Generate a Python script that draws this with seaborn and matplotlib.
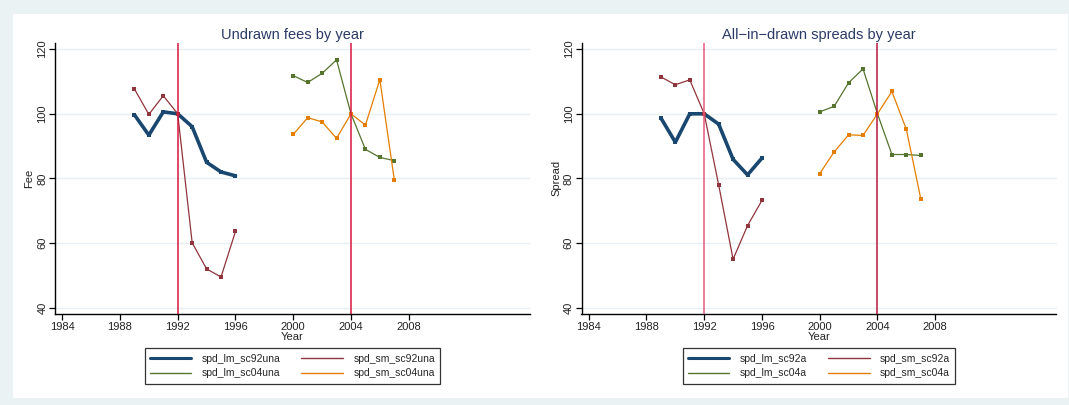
import numpy as np
import pandas as pd
import matplotlib
matplotlib.use("Agg")
import matplotlib.pyplot as plt
from matplotlib.lines import Line2D
from matplotlib.patches import Rectangle
import seaborn as sns

# ---------------- data ----------------
years_92 = [1989, 1990, 1991, 1992, 1993, 1994, 1995, 1996]
years_04 = [2000, 2001, 2002, 2003, 2004, 2005, 2006, 2007]

# Undrawn fees
spd_lm_sc92una = [99.7, 93.4, 100.6, 100.0, 96.0, 85.0, 82.0, 80.8]
spd_sm_sc92una = [107.7, 99.8, 105.6, 100.0, 60.1, 52.0, 49.5, 63.6]
spd_lm_sc04una = [111.8, 109.7, 112.5, 116.7, 100.0, 89.0, 86.5, 85.5]
spd_sm_sc04una = [93.6, 98.8, 97.5, 92.4, 100.0, 96.5, 110.6, 79.6]

# All-in-drawn spreads
spd_lm_sc92a = [98.7, 91.2, 100.0, 100.0, 96.8, 85.9, 81.1, 86.3]
spd_sm_sc92a = [111.4, 109.0, 110.5, 100.0, 78.0, 55.0, 65.4, 73.2]
spd_lm_sc04a = [100.6, 102.3, 109.6, 113.9, 100.0, 87.4, 87.4, 87.1]
spd_sm_sc04a = [81.5, 88.2, 93.5, 93.3, 100.0, 106.9, 95.2, 73.7]

x_ticks = [1984, 1988, 1992, 1996, 2000, 2004, 2008]
y_ticks = [40, 60, 80, 100, 120]
vlines = [1992, 2004]

titles = ["Undrawn fees by year", "All\u2212in\u2212drawn spreads by year"]
ylabels = ["Fee", "Spread"]

# ---------------- style ----------------
sns.set_theme(style="white")
plt.rcParams["font.family"] = ["Liberation Sans", "DejaVu Sans"]

NAVY = "#1a476f"
MAROON = "#90353b"
GREEN = "#55752f"
ORANGE = "#e37e00"

W, H = 1069, 405
fig = plt.figure(figsize=(W / 100, H / 100), dpi=100)
fig.patch.set_facecolor("#eaf2f3")
fig.add_artist(Rectangle((13 / W, 1 - 398 / H), (1068 - 13) / W, (398 - 14) / H,
                         transform=fig.transFigure, facecolor="white",
                         edgecolor="none", zorder=0))

def px_axes(left, top, right, bottom):
    return fig.add_axes([left / W, 1 - bottom / H, (right - left) / W, (bottom - top) / H])

ax1 = px_axes(55, 42.7, 530, 314)
ax2 = px_axes(581.5, 42.7, 1056.5, 314)

panels = [
    (ax1, [("spd_lm_sc92una", years_92, spd_lm_sc92una, NAVY, 2.6, 3.2),
           ("spd_lm_sc04una", years_04, spd_lm_sc04una, GREEN, 0.9, 2.2),
           ("spd_sm_sc92una", years_92, spd_sm_sc92una, MAROON, 0.9, 2.2),
           ("spd_sm_sc04una", years_04, spd_sm_sc04una, ORANGE, 0.9, 2.2)],
     ["#d8163f", "#d8163f"]),
    (ax2, [("spd_lm_sc92a", years_92, spd_lm_sc92a, NAVY, 2.6, 3.2),
           ("spd_lm_sc04a", years_04, spd_lm_sc04a, GREEN, 0.9, 2.2),
           ("spd_sm_sc92a", years_92, spd_sm_sc92a, MAROON, 0.9, 2.2),
           ("spd_sm_sc04a", years_04, spd_sm_sc04a, ORANGE, 0.9, 2.2)],
     ["#e8587c", "#b8163c"]),
]

draw_order = [0, 2, 1, 3]

for i, (ax, series, vcols) in enumerate(panels):
    ax.set_facecolor("white")
    for yt in y_ticks:
        ax.axhline(yt, color="#e6eff1", lw=1.0, zorder=0)
    for k in draw_order:
        name, xs, ys, col, lw, ms = series[k]
        df = pd.DataFrame({"Year": xs, "value": ys})
        sns.lineplot(data=df, x="Year", y="value", ax=ax, color=col, lw=lw,
                     marker="s", markersize=ms, markeredgewidth=0,
                     markerfacecolor=col, zorder=3 if k else 2, sort=False)
    for v, c in zip(vlines, vcols):
        ax.axvline(v, color=c, lw=1.1, zorder=4)

    ax.set_xlim(1983.5, 2016.4)
    ax.set_ylim(38.05, 122.0)
    ax.set_xticks(x_ticks)
    ax.set_yticks(y_ticks)
    ax.tick_params(axis="both", which="major", direction="out", length=4,
                   width=0.9, color="black", labelsize=8, labelcolor="#222222",
                   pad=1.5, left=True, bottom=True)
    for lab in ax.get_yticklabels():
        lab.set_rotation(90)
        lab.set_va("center")
    ax.set_xlabel("Year", fontsize=8, color="#222222", labelpad=0.5)
    ax.set_ylabel(ylabels[i], fontsize=8, color="#222222", labelpad=2)
    ax.set_title(titles[i], fontsize=10.5, color="#2b3a67", pad=3)
    for s in ["top", "right"]:
        ax.spines[s].set_visible(False)
    for s in ["left", "bottom"]:
        ax.spines[s].set_color("black")
        ax.spines[s].set_linewidth(1.0)

    handles = [Line2D([], [], color=col, lw=(2.2 if lw > 2 else 1.0))
               for (_, _, _, col, lw, _) in series]
    labels = [s[0] for s in series]
    cx = (ax.get_position().x0 + ax.get_position().x1) / 2
    leg = fig.legend(handles, labels, loc="center", bbox_to_anchor=(cx, 1 - 366 / H),
                     ncol=2, fontsize=7.5, frameon=True, fancybox=False,
                     handlelength=4.0, columnspacing=2.0, handletextpad=1.0,
                     borderpad=0.5, labelspacing=0.45)
    leg.get_frame().set_edgecolor("black")
    leg.get_frame().set_linewidth(0.9)

fig.savefig("out.png", dpi=100, facecolor=fig.get_facecolor())
